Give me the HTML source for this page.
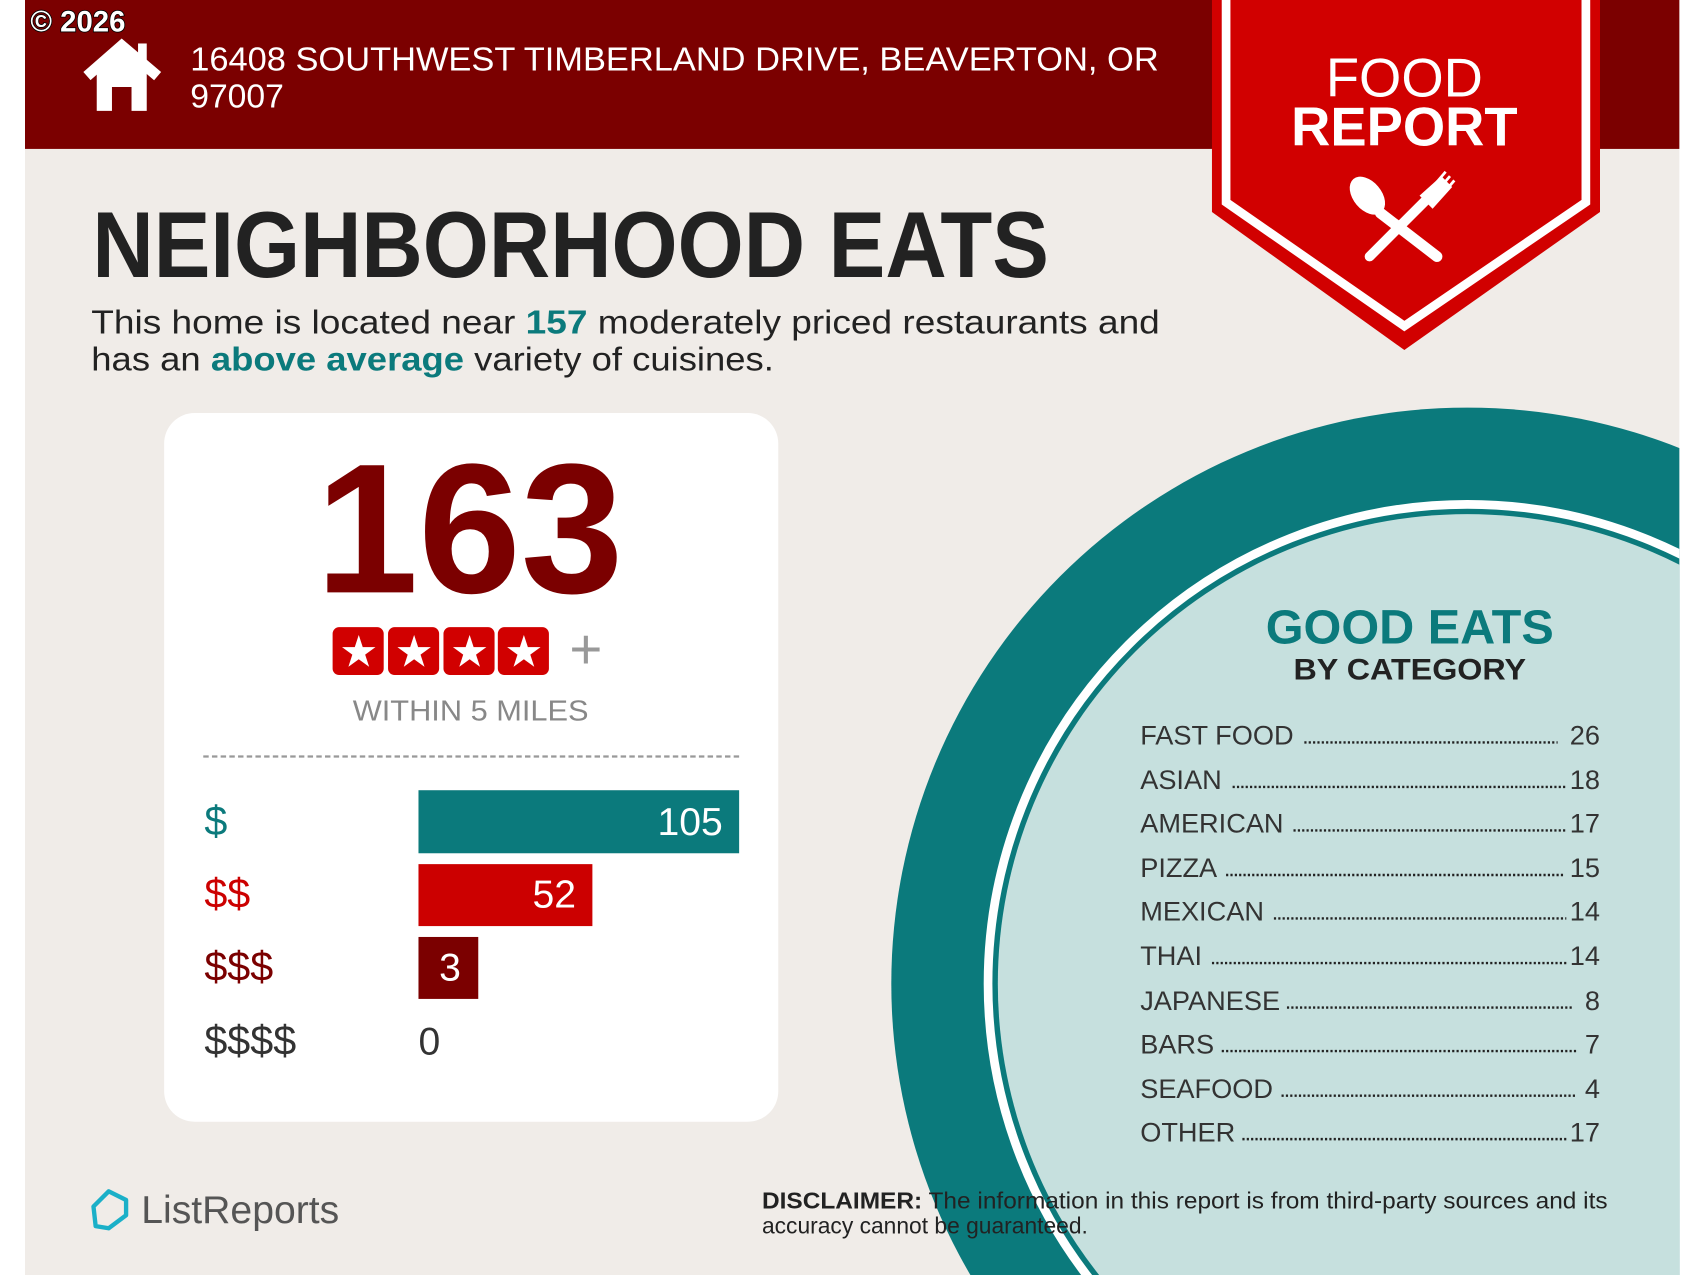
<!DOCTYPE html>
<html><head><meta charset="utf-8"><style>
html,body{margin:0;padding:0;background:#fff;width:1700px;height:1275px;overflow:hidden;}
svg{display:block;}
text{font-family:"Liberation Sans",sans-serif;}
</style></head><body>
<svg width="1700" height="1275" viewBox="0 0 1564 1173" preserveAspectRatio="none" xmlns="http://www.w3.org/2000/svg">
<defs><clipPath id="pg"><rect x="23" y="0" width="1522" height="1173"/></clipPath></defs>
<rect x="0" y="0" width="1564" height="1173" fill="#fff"/>
<rect x="23" y="0" width="1522" height="1173" fill="#f0ece8"/>
<g clip-path="url(#pg)">
<circle cx="1350" cy="905" r="530" fill="#0b7a7c"/>
<circle cx="1350" cy="905" r="441" fill="none" stroke="#fff" stroke-width="8"/>
<circle cx="1350" cy="905" r="432" fill="#c6e0de"/>
</g>
<rect x="23" y="0" width="1522" height="137" fill="#7b0000"/>
<text x="28" y="29" font-size="27" font-weight="bold" fill="#fff" stroke="#000" stroke-width="1.5" paint-order="stroke">© 2026</text>
<g fill="#fff">
<polyline points="80,70 112,42 145,70" fill="none" stroke="#fff" stroke-width="10" stroke-linejoin="miter"/>
<rect x="127" y="40" width="8" height="18"/>
<path d="M89,66 L112,47 L135,66 L135,102 L121,102 L121,80 L103,80 L103,102 L89,102 Z"/>
</g>
<text x="175" y="65" font-size="31" fill="#fff" textLength="891" lengthAdjust="spacingAndGlyphs">16408 SOUTHWEST TIMBERLAND DRIVE, BEAVERTON, OR</text>
<text x="175" y="99" font-size="31" fill="#fff">97007</text>
<polygon points="1115,0 1472,0 1472,195 1292,322 1115,195" fill="#d10000"/>
<polyline points="1128,0 1128,186 1292,300 1459,186 1459,0" fill="none" stroke="#fff" stroke-width="8"/>
<text x="1292" y="89" font-size="50" fill="#fff" text-anchor="middle">FOOD</text>
<text x="1292" y="134" font-size="50" font-weight="bold" fill="#fff" text-anchor="middle">REPORT</text>
<g fill="#fff" stroke="#fff">
<line x1="1270" y1="196" x2="1322" y2="236" stroke-width="10" stroke-linecap="round"/>
<ellipse cx="1258" cy="180" rx="13" ry="20" transform="rotate(-40 1258 180)" stroke="none"/>
<line x1="1260" y1="236" x2="1312" y2="184" stroke-width="9" stroke-linecap="round"/>
<path d="M1306,180 L1326,162 L1336,172 L1318,192 Z" stroke="none"/>
<g stroke-width="2.5"><line x1="1318" y1="172" x2="1330" y2="158"/><line x1="1322" y1="176" x2="1334" y2="162"/><line x1="1326" y1="180" x2="1338" y2="166"/></g>
</g>
<text x="85" y="255" font-size="86" font-weight="bold" fill="#222" textLength="880" lengthAdjust="spacingAndGlyphs">NEIGHBORHOOD EATS</text>
<text x="84" y="307" font-size="31" fill="#222" textLength="983" lengthAdjust="spacingAndGlyphs">This home is located near <tspan font-weight="bold" fill="#0b7a7c">157</tspan> moderately priced restaurants and</text>
<text x="84" y="341" font-size="31" fill="#222" textLength="628" lengthAdjust="spacingAndGlyphs">has an <tspan font-weight="bold" fill="#0b7a7c">above average</tspan> variety of cuisines.</text>
<rect x="151" y="380" width="565" height="652" rx="28" fill="#fff"/>
<text x="432" y="545" font-size="170" font-weight="bold" fill="#7b0000" text-anchor="middle" textLength="283" lengthAdjust="spacingAndGlyphs">163</text>
<g>
<rect x="306" y="577" width="47" height="44" rx="6" fill="#d10000"/>
<rect x="357" y="577" width="47" height="44" rx="6" fill="#d10000"/>
<rect x="408" y="577" width="47" height="44" rx="6" fill="#d10000"/>
<rect x="458" y="577" width="47" height="44" rx="6" fill="#d10000"/>
<g fill="#fff" font-size="40" text-anchor="middle"><text x="330" y="613">★</text><text x="381" y="613">★</text><text x="432" y="613">★</text><text x="482" y="613">★</text></g>
</g>
<text x="539" y="615" font-size="52" fill="#999" text-anchor="middle">+</text>
<text x="433" y="663" font-size="26" fill="#888" text-anchor="middle" textLength="217" lengthAdjust="spacingAndGlyphs">WITHIN 5 MILES</text>
<line x1="187" y1="696" x2="680" y2="696" stroke="#999" stroke-width="2" stroke-dasharray="5 3"/>
<rect x="385" y="727" width="295" height="58" fill="#0b7a7c"/>
<text x="665" y="768" font-size="36" fill="#fff" text-anchor="end">105</text>
<text x="188" y="768" font-size="38" fill="#0b7a7c">$</text>
<rect x="385" y="795" width="160" height="57" fill="#cc0000"/>
<text x="530" y="835" font-size="36" fill="#fff" text-anchor="end">52</text>
<text x="188" y="835" font-size="38" fill="#cc0000">$$</text>
<rect x="385" y="862" width="55" height="57" fill="#7b0000"/>
<text x="414" y="902" font-size="36" fill="#fff" text-anchor="middle">3</text>
<text x="188" y="902" font-size="38" fill="#7b0000">$$$</text>
<text x="188" y="970" font-size="38" fill="#333">$$$$</text>
<text x="385" y="970" font-size="36" fill="#333">0</text>
<text x="1297" y="592" font-size="44" font-weight="bold" fill="#0b7a7c" text-anchor="middle" textLength="265" lengthAdjust="spacingAndGlyphs">GOOD EATS</text>
<text x="1297" y="625" font-size="27" font-weight="bold" fill="#222" text-anchor="middle" textLength="214" lengthAdjust="spacingAndGlyphs">BY CATEGORY</text>
<g font-size="25" fill="#333">
<text x="1049" y="685">FAST FOOD</text><text x="1472" y="685" text-anchor="end">26</text>
<text x="1049" y="726">ASIAN</text><text x="1472" y="726" text-anchor="end">18</text>
<text x="1049" y="766">AMERICAN</text><text x="1472" y="766" text-anchor="end">17</text>
<text x="1049" y="807">PIZZA</text><text x="1472" y="807" text-anchor="end">15</text>
<text x="1049" y="847">MEXICAN</text><text x="1472" y="847" text-anchor="end">14</text>
<text x="1049" y="888">THAI</text><text x="1472" y="888" text-anchor="end">14</text>
<text x="1049" y="929">JAPANESE</text><text x="1472" y="929" text-anchor="end">8</text>
<text x="1049" y="969">BARS</text><text x="1472" y="969" text-anchor="end">7</text>
<text x="1049" y="1010">SEAFOOD</text><text x="1472" y="1010" text-anchor="end">4</text>
<text x="1049" y="1050">OTHER</text><text x="1472" y="1050" text-anchor="end">17</text>
</g>
<g stroke="#222" stroke-width="2.2" stroke-dasharray="2 2">
<line x1="1200" y1="683" x2="1433" y2="683"/>
<line x1="1134" y1="724" x2="1440" y2="724"/>
<line x1="1190" y1="764" x2="1441" y2="764"/>
<line x1="1128" y1="805" x2="1440" y2="805"/>
<line x1="1172" y1="845" x2="1441" y2="845"/>
<line x1="1115" y1="886" x2="1441" y2="886"/>
<line x1="1184" y1="927" x2="1446" y2="927"/>
<line x1="1124" y1="967" x2="1452" y2="967"/>
<line x1="1179" y1="1008" x2="1451" y2="1008"/>
<line x1="1143" y1="1048" x2="1441" y2="1048"/>
</g>
<path d="M86,1110 L100,1096 L116,1104 L116,1118 L100,1130 L88,1128 Z" fill="none" stroke="#1bb0c8" stroke-width="4" stroke-linejoin="round"/>
<text x="130" y="1125" font-size="36" fill="#555">ListReports</text>
<text x="701" y="1112" font-size="21" fill="#222" textLength="778" lengthAdjust="spacingAndGlyphs"><tspan font-weight="bold">DISCLAIMER:</tspan> The information in this report is from third-party sources and its</text>
<text x="701" y="1135" font-size="21" fill="#222">accuracy cannot be guaranteed.</text>
</svg>
</body></html>
